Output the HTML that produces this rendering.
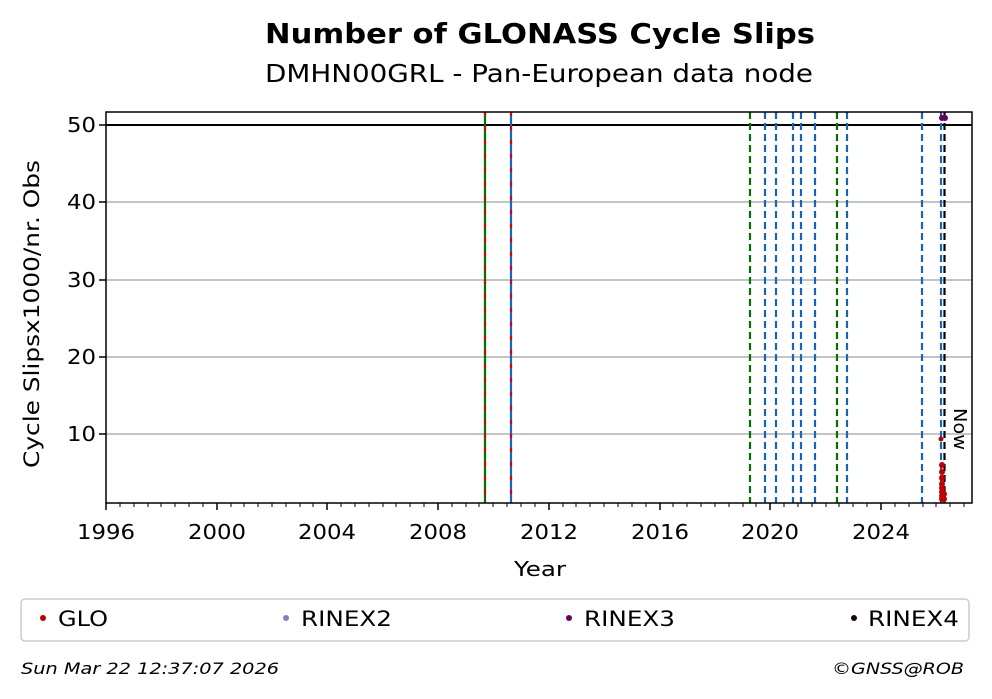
<!DOCTYPE html>
<html><head><meta charset="utf-8"><style>
body{margin:0;background:#fff;}
svg{display:block;font-family:"DejaVu Sans",sans-serif;}
</style></head><body>
<svg width="992" height="699" viewBox="0 0 992 699" xmlns="http://www.w3.org/2000/svg">
<rect width="992" height="699" fill="#fff"/>
<text x="265" y="43" font-size="28" font-weight="bold" textLength="550" lengthAdjust="spacingAndGlyphs">Number of GLONASS Cycle Slips</text>
<text x="265" y="82" font-size="25" textLength="548" lengthAdjust="spacingAndGlyphs">DMHN00GRL - Pan-European data node</text>
<g stroke="#b0b0b0" stroke-width="1.5">
<line x1="106" x2="972" y1="434" y2="434"/><line x1="106" x2="972" y1="357" y2="357"/>
<line x1="106" x2="972" y1="280" y2="280"/><line x1="106" x2="972" y1="202" y2="202"/>
</g>
<line x1="106" x2="972" y1="125" y2="125" stroke="#000" stroke-width="2"/>
<g stroke-width="2.2" stroke-dasharray="7,4">
<line x1="485" x2="485" y1="112" y2="503" stroke="#007000" stroke-dasharray="none"/>
<line x1="485" x2="485" y1="112" y2="503" stroke="#e00000" stroke-dasharray="4,10"/>
<line x1="511" x2="511" y1="112" y2="503" stroke="#1565c0" stroke-dasharray="none"/>
<line x1="511" x2="511" y1="112" y2="503" stroke="#e00000" stroke-dasharray="4,10"/>
<line x1="750" x2="750" y1="112" y2="503" stroke="#007000"/>
<line x1="837" x2="837" y1="112" y2="503" stroke="#007000"/>
<g stroke="#1565c0">
<line x1="765" x2="765" y1="112" y2="503"/><line x1="776" x2="776" y1="112" y2="503"/>
<line x1="793" x2="793" y1="112" y2="503"/><line x1="801" x2="801" y1="112" y2="503"/>
<line x1="815" x2="815" y1="112" y2="503"/><line x1="847" x2="847" y1="112" y2="503"/>
<line x1="922" x2="922" y1="112" y2="503"/><line x1="941" x2="941" y1="112" y2="503"/>
</g>
<line x1="944.5" x2="944.5" y1="112" y2="503" stroke="#000"/>
</g>
<g fill="#c00000">
<circle cx="941" cy="439" r="2.5"/><circle cx="942" cy="465" r="3"/><circle cx="942" cy="472" r="3"/>
<circle cx="942" cy="478" r="3"/><circle cx="942" cy="484" r="3"/><circle cx="942" cy="488" r="3"/>
<circle cx="942" cy="492" r="3"/><circle cx="942" cy="496" r="3"/><circle cx="942" cy="499" r="3"/>
<circle cx="944" cy="494" r="3"/><circle cx="944" cy="499" r="3"/>
</g>
<circle cx="942" cy="118" r="3" fill="#660066"/><circle cx="945" cy="118" r="3" fill="#660066"/>
<text transform="translate(954,408) rotate(90)" font-size="18" textLength="42" lengthAdjust="spacingAndGlyphs">Now</text>
<rect x="106" y="112" width="866" height="391" fill="none" stroke="#000" stroke-width="1.5"/>
<g stroke="#000" stroke-width="1.5">
<line x1="106" x2="106" y1="503" y2="510"/><line x1="217" x2="217" y1="503" y2="510"/>
<line x1="327" x2="327" y1="503" y2="510"/><line x1="438" x2="438" y1="503" y2="510"/>
<line x1="549" x2="549" y1="503" y2="510"/><line x1="660" x2="660" y1="503" y2="510"/>
<line x1="770" x2="770" y1="503" y2="510"/><line x1="881" x2="881" y1="503" y2="510"/>
<line x1="99" x2="106" y1="125" y2="125"/><line x1="99" x2="106" y1="202" y2="202"/>
<line x1="99" x2="106" y1="280" y2="280"/><line x1="99" x2="106" y1="357" y2="357"/>
<line x1="99" x2="106" y1="434" y2="434"/>
</g>
<g stroke="#000" stroke-width="1">
<path d="M120 503v4M134 503v4M148 503v4M161 503v4M175 503v4M189 503v4M203 503v4M231 503v4M244 503v4M258 503v4M272 503v4M286 503v4M300 503v4M313 503v4M341 503v4M355 503v4M369 503v4M383 503v4M396 503v4M410 503v4M424 503v4M452 503v4M466 503v4M479 503v4M493 503v4M507 503v4M521 503v4M535 503v4M563 503v4M576 503v4M590 503v4M604 503v4M618 503v4M632 503v4M646 503v4M673 503v4M687 503v4M701 503v4M715 503v4M729 503v4M743 503v4M756 503v4M784 503v4M798 503v4M812 503v4M826 503v4M839 503v4M853 503v4M867 503v4M895 503v4M909 503v4M923 503v4M936 503v4M950 503v4M964 503v4"/>
</g>
<g font-size="20" text-anchor="middle">
<text x="106" y="539" textLength="58" lengthAdjust="spacingAndGlyphs">1996</text>
<text x="217" y="539" textLength="58" lengthAdjust="spacingAndGlyphs">2000</text>
<text x="327" y="539" textLength="58" lengthAdjust="spacingAndGlyphs">2004</text>
<text x="438" y="539" textLength="58" lengthAdjust="spacingAndGlyphs">2008</text>
<text x="549" y="539" textLength="58" lengthAdjust="spacingAndGlyphs">2012</text>
<text x="660" y="539" textLength="58" lengthAdjust="spacingAndGlyphs">2016</text>
<text x="770" y="539" textLength="58" lengthAdjust="spacingAndGlyphs">2020</text>
<text x="881" y="539" textLength="58" lengthAdjust="spacingAndGlyphs">2024</text>
<text x="540" y="576" textLength="52" lengthAdjust="spacingAndGlyphs">Year</text>
</g>
<g font-size="20" text-anchor="end">
<text x="96" y="132" textLength="29" lengthAdjust="spacingAndGlyphs">50</text>
<text x="96" y="209" textLength="29" lengthAdjust="spacingAndGlyphs">40</text>
<text x="96" y="287" textLength="29" lengthAdjust="spacingAndGlyphs">30</text>
<text x="96" y="364" textLength="29" lengthAdjust="spacingAndGlyphs">20</text>
<text x="96" y="441" textLength="29" lengthAdjust="spacingAndGlyphs">10</text>
</g>
<text transform="translate(39,314) rotate(-90)" text-anchor="middle" font-size="21" textLength="308" lengthAdjust="spacingAndGlyphs">Cycle Slipsx1000/nr. Obs</text>
<rect x="21" y="599" width="948" height="42" rx="4" fill="#fff" stroke="#ccc" stroke-width="1.5"/>
<g font-size="21">
<circle cx="43" cy="618" r="3" fill="#c00000"/><text x="58" y="626" textLength="50" lengthAdjust="spacingAndGlyphs">GLO</text>
<circle cx="286" cy="618" r="3" fill="#8a7cc0"/><text x="301" y="626" textLength="91" lengthAdjust="spacingAndGlyphs">RINEX2</text>
<circle cx="569" cy="618" r="3" fill="#660066"/><text x="584" y="626" textLength="91" lengthAdjust="spacingAndGlyphs">RINEX3</text>
<circle cx="854" cy="618" r="3" fill="#1a0010"/><text x="868" y="626" textLength="91" lengthAdjust="spacingAndGlyphs">RINEX4</text>
</g>
<text x="21" y="674" font-size="16" font-style="italic" textLength="258" lengthAdjust="spacingAndGlyphs">Sun Mar 22 12:37:07 2026</text>
<text x="832" y="674" font-size="16" font-style="italic" textLength="132" lengthAdjust="spacingAndGlyphs">©GNSS@ROB</text>
</svg>
</body></html>
